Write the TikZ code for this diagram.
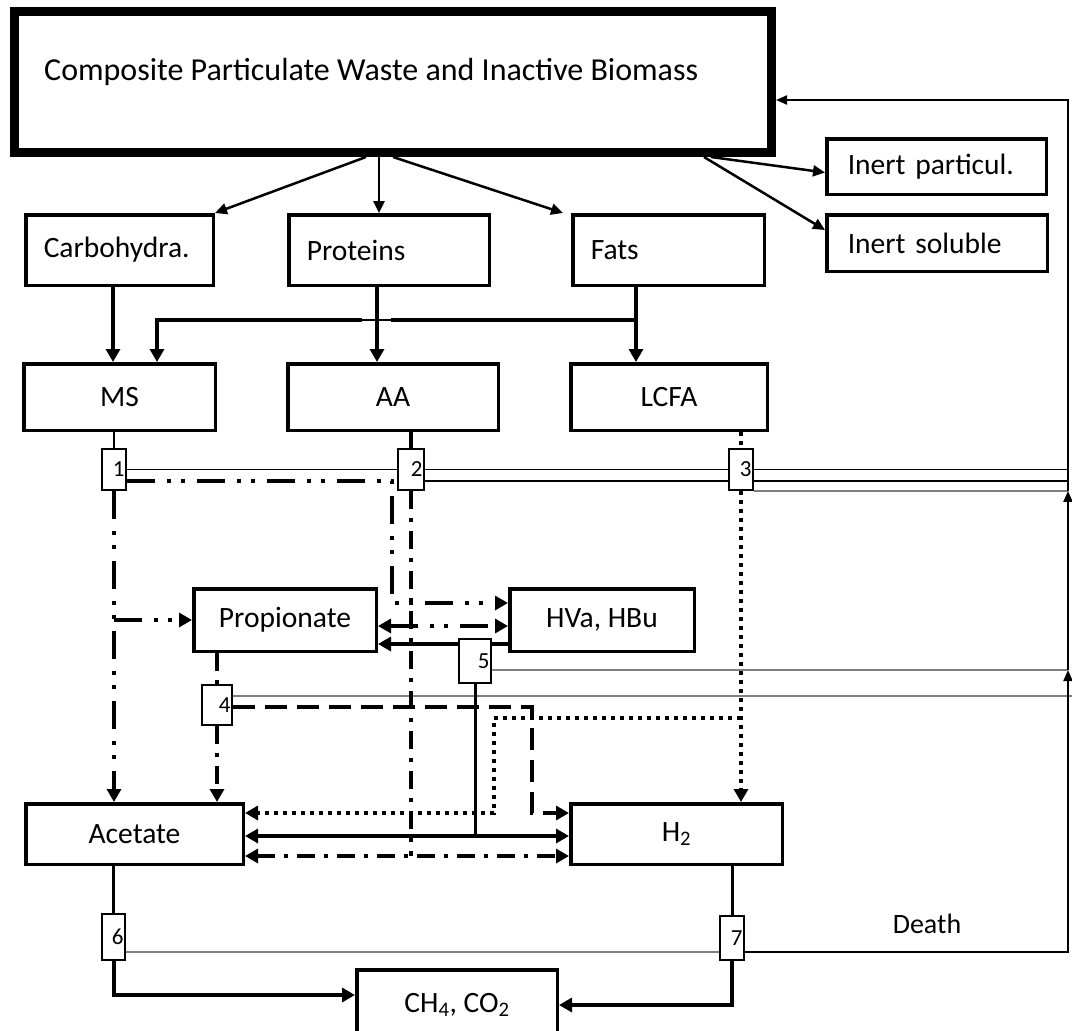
\documentclass[tikz,border=0pt]{standalone}
\usepackage{fontspec}
\setmainfont{Carlito}
\usetikzlibrary{arrows.meta,backgrounds}

\tikzset{
  box/.style={draw, line width=3.5pt, fill=white, font=\fontsize{29.5}{33}\selectfont},
  lbox/.style={box, align=left, inner xsep=18pt},
  numbox/.style={draw, line width=1.8pt, fill=white, inner xsep=1.5pt, inner ysep=0pt,
    align=right, font=\fontsize{23}{26}\selectfont},
  arrowend/.style={-{Triangle[length=13pt,width=14pt]}},
  arrowboth/.style={{Triangle[length=13pt,width=14pt]}-{Triangle[length=13pt,width=14pt]}},
  hydro/.style={line width=2.5pt, -{Triangle[length=12pt,width=11pt]}},
  flow/.style={line width=4pt, arrowend},
  death/.style={line width=1.5pt},
  greydeath/.style={line width=1.5pt, draw=black!50},
  rimarrow/.style={line width=2pt, -{Triangle[length=11pt,width=9pt]}},
  twodot/.style={line width=4pt, dash pattern=on 28pt off 12pt on 4pt off 10pt on 4pt off 12pt},
  onedot/.style={line width=3.5pt, dash pattern=on 18pt off 9pt on 4pt off 9pt},
  dashline/.style={line width=4pt, dash pattern=on 22pt off 10pt},
  dotline/.style={line width=4pt, dash pattern=on 4pt off 5pt},
}

\begin{document}
\begin{tikzpicture}[x=1pt, y=-1pt]
\useasboundingbox (0,0) rectangle (1072,1031);

% substrates
\node[box, line width=9pt, minimum width=757pt, minimum height=141pt] (cpw) at (393,82) {};
\node[anchor=west, inner sep=0pt, font=\fontsize{32}{36}\selectfont] (cpwtext) at (44,72)
  {Composite Particulate Waste and Inactive Biomass};
\node[lbox, inner xsep=21pt, text width=177.5pt, minimum height=55.5pt] (inpart) at (936.5,166.5) {Inert particul.};
\node[lbox, inner xsep=21pt, text width=178.5pt, minimum height=56.5pt] (insol) at (937,243) {Inert soluble};
\node[lbox, text width=151.5pt, minimum height=70.5pt] (carb) at (119.5,250) {Carbohydra.};
\node[lbox, text width=164.5pt, minimum height=70.5pt] (prot) at (389,250) {Proteins};
\node[lbox, text width=155.5pt, minimum height=70.5pt] (fats) at (668.5,250) {Fats};
\node[box, minimum width=191.5pt, minimum height=66.5pt] (ms) at (119.5,397) {MS};
\node[box, minimum width=210.5pt, minimum height=66.5pt] (aa) at (393,397) {AA};
\node[box, minimum width=196.5pt, minimum height=66.5pt] (lcfa) at (669,397) {LCFA};
\node[box, minimum width=182.5pt, minimum height=62.5pt] (prop) at (285,620) {Propionate};
\node[box, minimum width=184.5pt, minimum height=62.5pt] (hva) at (602,620) {HVa, HBu};
\node[box, minimum width=217.5pt, minimum height=60.5pt] (acet) at (134.5,834) {Acetate};
\node[box, minimum width=211.5pt, minimum height=60.5pt] (htwo) at (676.5,834) {H\textsubscript{2}};
\node[box, minimum width=200.5pt, minimum height=70pt] (gas) at (457,1005) {CH\textsubscript{4}, CO\textsubscript{2}};

% uptake steps
\node[numbox, text width=21pt, minimum height=41pt] (b1) at (114,469.5) {1};
\node[numbox, text width=23pt, minimum height=41pt] (b2) at (411,469.5) {2};
\node[numbox, text width=21pt, minimum height=41pt] (b3) at (741,469.5) {3};
\node[numbox, text width=27pt, minimum height=40pt] (b4) at (217,705) {4};
\node[numbox, text width=29pt, minimum height=44pt] (b5) at (475,661) {5};
\node[numbox, text width=20pt, minimum height=46pt] (b6) at (113.5,937) {6};
\node[numbox, text width=21pt, minimum height=44pt] (b7) at (732,938) {7};

\node[font=\fontsize{28}{32}\selectfont] (death) at (927,924) {Death};

\coordinate (rimtop) at (1068,100);
\coordinate (fatsfork) at (636,320);
\coordinate (bridgeR) at (391,320);
\coordinate (bridgeL) at (362,320);
\coordinate (msfork) at (157,320);
\coordinate (hvbend) at (392,603);
\coordinate (dashbend) at (532,813);
\coordinate (dotbend) at (494,718);

\begin{scope}[on background layer]
  % disintegration
  \draw[hydro] ([xshift=-27pt]cpw.south) -- (carb.north east);
  \draw[hydro] ([xshift=-14pt]cpw.south) -- ([xshift=-10pt]prot.north);
  \draw[hydro] (cpw.south) -- ([xshift=-8pt]fats.north west);
  \draw[hydro] ([xshift=318pt]cpw.south) -- ([yshift=-6pt]inpart.west);
  \draw[hydro] ([xshift=311pt]cpw.south) -- ([yshift=13pt]insol.west);

  % hydrolysis
  \draw[flow] ([xshift=-6.5pt]carb.south) -- ([xshift=-6.5pt]ms.north);
  \draw[flow] ([xshift=-12pt]prot.south) -- ([xshift=-16pt]aa.north);
  \draw[flow] ([xshift=-32.5pt]fats.south) -- ([xshift=-33pt]lcfa.north);
  \draw[line width=4pt] (fatsfork) -- (bridgeR);
  \draw[death] (bridgeR) -- (bridgeL);
  \draw[flow] (bridgeL) -- (msfork) -- (msfork |- ms.north);

  \draw[line width=2pt] (ms.south -| b1.north) -- (b1.north);
  \draw[line width=4pt] (aa.south -| b2.north) -- (b2.north);
  \draw[dotline] (lcfa.south -| b3.north) -- (b3.north);

  % biomass decay
  \draw[death] (b1.east) -- (b1.east -| rimtop);
  \draw[death] ([yshift=-11.5pt]b2.east) coordinate (d2) -- (d2 -| rimtop);
  \draw[greydeath] (b3.south east) -- (b3.south east -| rimtop);
  \draw[greydeath] ([yshift=-9pt]b5.east) coordinate (d5) -- (d5 -| rimtop);
  \draw[greydeath] ([yshift=9pt]b4.east) coordinate (d4) -- ([xshift=4pt]d4 -| rimtop);
  \draw[greydeath] ([yshift=-15pt]b6.east) coordinate (d6) -- (d6 -| b7.west);
  \draw[rimarrow] ([yshift=-14pt]b7.east) coordinate (d7) -- (d7 -| rimtop) -- (rimtop |- d5);
  \draw[rimarrow] (rimtop |- d5) -- (rimtop |- b3.south east);
  \draw[rimarrow] (rimtop |- b3.south east) -- (rimtop) -- (rimtop -| cpw.east);

  % sugars
  \draw[twodot, arrowend] (b1.south) -- (b1.south |- acet.north);
  \draw[twodot, arrowend] (b1.south |- prop.west) -- (prop.west);
  \draw[twodot, arrowend] ([yshift=-11.5pt]b1.east) coordinate (d1) -- (d1 -| hvbend)
    -- (hvbend) -- (hvbend -| hva.west);
  \draw[twodot, arrowboth] ([yshift=-6pt]prop.east) -- ([yshift=-6pt]hva.west);

  % amino acids
  \draw[onedot, arrowboth] ([yshift=-22pt]acet.east) coordinate (aarow) -- ([yshift=-22pt]htwo.west);
  \draw[onedot] (b2.south) -- (b2.south |- aarow);

  % valerate and butyrate
  \draw[line width=4pt, arrowend] ([yshift=-24pt]hva.west) -- ([yshift=-24pt]prop.east);
  \draw[line width=3pt] (b5.south) -- (b5.south |- acet.east);
  \draw[line width=4pt, arrowboth] ([yshift=-2pt]acet.east) -- ([yshift=-2pt]htwo.west);

  % propionate
  \draw[onedot] (prop.south -| b4.north) -- (b4.north);
  \draw[onedot, arrowend] (b4.south) -- (b4.south |- acet.north);
  \draw[dashline, arrowend] ([yshift=-2pt]b4.east) coordinate (d4b) -- (d4b -| dashbend)
    -- (dashbend) -- (dashbend -| htwo.west);

  % LCFA
  \draw[dotline, arrowend] (b3.south) -- (b3.south |- htwo.north);
  \draw[dotline, arrowend] (b3.south |- dotbend) -- (dotbend) -- (dotbend |- dashbend)
    -- (dashbend -| acet.east);

  % methanogenesis
  \draw[line width=3pt] (acet.south -| b6.north) -- (b6.north);
  \draw[line width=4pt, arrowend] (b6.south) |- ([yshift=10pt]gas.west);
  \draw[line width=3pt] (htwo.south -| b7.north) -- (b7.north);
  \draw[line width=4pt, arrowend] (b7.south) |- (gas.east);
\end{scope}
\end{tikzpicture}
\end{document}
